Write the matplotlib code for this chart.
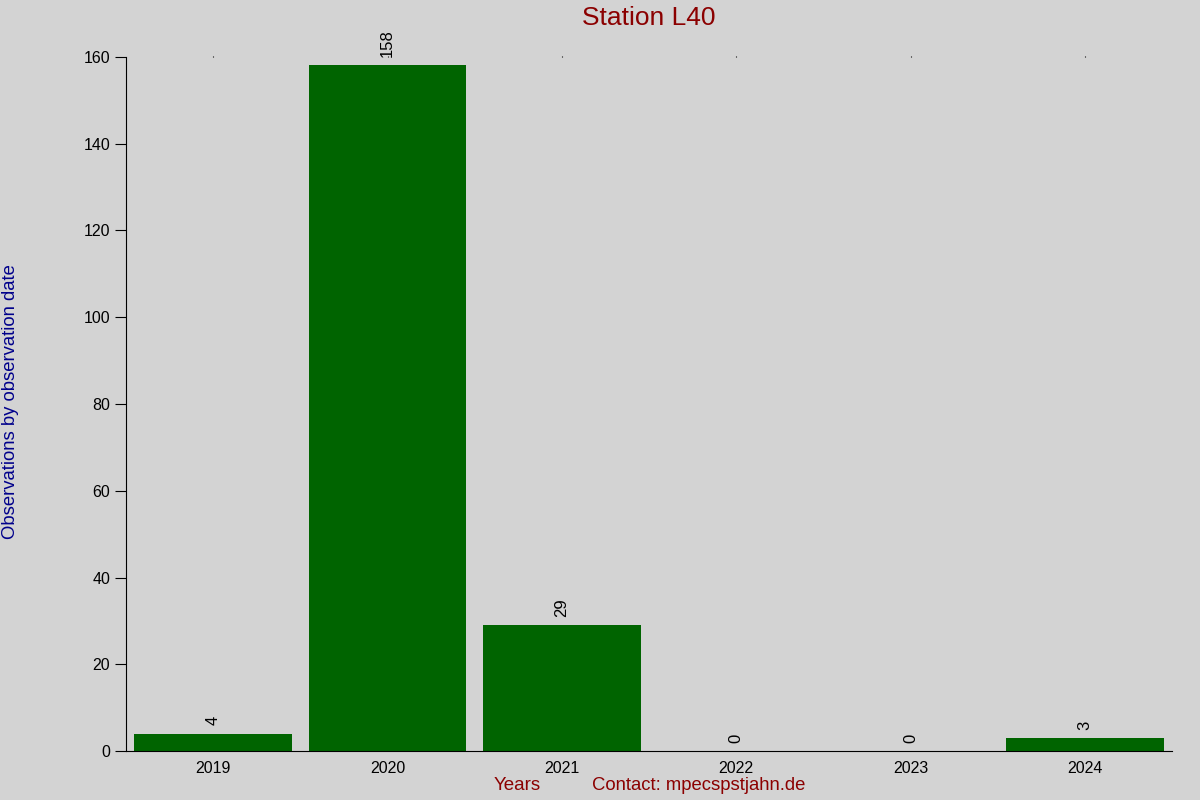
import matplotlib.pyplot as plt
import numpy as np

plt.rcParams['font.family'] = ['Liberation Sans', 'DejaVu Sans']

years = ['2019', '2020', '2021', '2022', '2023', '2024']
counts = [4, 158, 29, 0, 0, 3]

fig = plt.figure(figsize=(12, 8), dpi=100, facecolor='#d3d3d3')
ax = fig.add_axes([0.105, 0.061, 0.8717, 0.868])
ax.set_facecolor('#d3d3d3')

x = np.arange(len(years))
bars = ax.bar(x, counts, width=0.906, color='#006400')
for xi, c in zip(x, counts):
    ax.text(xi, c + 2, str(c), rotation=90, ha='center', va='bottom', fontsize=12)

ax.set_xlim(-0.5, len(years) - 0.5)
ax.set_ylim(0, 160)
ax.set_yticks(range(0, 161, 20))
ax.set_xticks(x)
ax.set_xticklabels(years)
ax.tick_params(axis='x', bottom=False, top=True, length=1, labelsize=11.5, pad=6)
ax.tick_params(axis='y', length=8, labelsize=11.5)
ax.spines['top'].set_visible(False)
ax.spines['right'].set_visible(False)

fig.text(0.541, 0.977, 'Station L40', color='#8b0000', fontsize=19, ha='center', va='center')
fig.text(0.009, 0.4975, 'Observations by observation date', color='#00008b', fontsize=13.3,
         rotation=90, ha='center', va='center')
fig.text(0.431, 0.0175, 'Years', color='#8b0000', fontsize=13.5, ha='center', va='center')
fig.text(0.582, 0.0175, 'Contact: mpecspstjahn.de', color='#8b0000', fontsize=13.3, ha='center', va='center')

fig.savefig('out.png', dpi=100, facecolor=fig.get_facecolor())
